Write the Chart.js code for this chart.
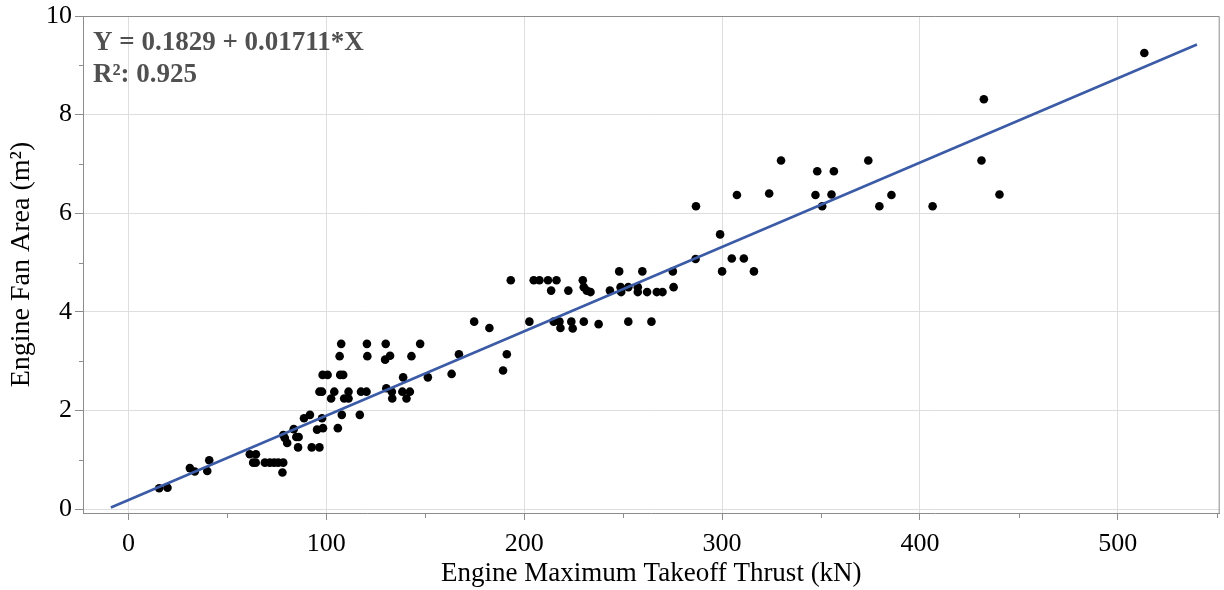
<!DOCTYPE html>
<html>
<head>
<meta charset="utf-8">
<script src="https://cdn.jsdelivr.net/npm/chart.js@4.4.1/dist/chart.umd.min.js"></script>
<style>
  html, body { margin: 0; padding: 0; background: #fff; }
  #wrap { width: 1224px; height: 590px; }
</style>
</head>
<body>
<div id="wrap"><canvas id="fanChart"></canvas></div>
<script>
// engine thrust (kN) vs fan area (m²)
const thrustKN = [
  15.5, 19.7, 31.0, 33.5, 39.8, 40.8, 61.3, 64.4, 63.0, 64.3,
  68.9, 71.4, 73.6, 75.7, 78.2, 77.8, 78.2, 79.0, 80.2, 83.5,
  84.8, 86.0, 85.7, 88.7, 91.7, 92.6, 96.5, 95.3, 98.3, 97.8,
  105.8, 107.8, 116.9, 96.5, 97.8, 98.1, 100.6, 107.0, 108.5, 107.5,
  106.7, 104.0, 102.4, 109.0, 111.2, 111.2, 117.5, 120.3, 120.5, 120.7,
  130.0, 129.7, 132.2, 130.3, 133.1, 133.3, 138.4, 142.2, 138.8, 140.5,
  143.0, 147.4, 151.3, 163.3, 167.0, 174.7, 182.4, 189.3, 191.2, 193.2,
  202.6, 204.8, 207.7, 212.0, 216.3, 213.6, 214.9, 217.8, 218.3, 223.8,
  224.5, 222.3, 229.6, 230.1, 231.6, 233.5, 230.1, 237.6, 243.3, 248.0,
  248.7, 249.0, 252.6, 252.6, 257.4, 257.4, 259.7, 262.1, 267.0, 269.9,
  264.3, 275.1, 275.5, 286.6, 286.8, 299.0, 300.0, 304.9, 311.0, 316.1,
  307.5, 323.8, 329.8, 347.2, 348.1, 350.6, 355.3, 356.5, 373.9, 379.5,
  385.6, 406.4, 431.1, 432.3, 440.2, 513.4
];
const fanArea = [
  0.42, 0.43, 0.83, 0.76, 0.77, 0.99, 1.11, 1.11, 0.94, 0.94,
  0.94, 0.94, 0.94, 0.94, 0.94, 0.74, 1.50, 1.44, 1.34, 1.62,
  1.46, 1.46, 1.25, 1.84, 1.91, 1.25, 1.25, 1.61, 1.64, 1.84,
  1.64, 1.91, 1.91, 2.38, 2.38, 2.72, 2.72, 2.72, 2.72, 3.35,
  3.10, 2.38, 2.24, 2.24, 2.24, 2.38, 2.38, 2.38, 3.35, 3.10,
  3.35, 3.03, 3.11, 2.45, 2.38, 2.24, 2.38, 2.38, 2.67, 2.24,
  3.10, 3.35, 2.67, 2.74, 3.14, 3.80, 3.67, 2.81, 3.14, 4.64,
  3.80, 4.64, 4.64, 4.64, 4.64, 4.43, 3.80, 3.80, 3.67, 3.80,
  3.66, 4.43, 4.64, 4.50, 4.43, 4.40, 3.80, 3.75, 4.43, 4.82,
  4.50, 4.40, 4.50, 3.80, 4.50, 4.40, 4.82, 4.40, 4.40, 4.40,
  3.80, 4.82, 4.50, 5.07, 6.14, 5.57, 4.82, 5.08, 5.08, 4.82,
  6.37, 6.40, 7.07, 6.37, 6.85, 6.14, 6.38, 6.85, 7.07, 6.14,
  6.37, 6.14, 7.07, 8.31, 6.38, 9.25
];

// fitted line Y = a + b*X, drawn over this x span
const fitIntercept = 0.1829;
const fitSlope = 0.01711;
const fitSpan = [-8.9, 540.0];
const fitText = ["Y = 0.1829 + 0.01711*X", "R²: 0.925"];

const xTicks = [0, 100, 200, 300, 400, 500];
const xMinorTicks = [50, 150, 250, 350, 450, 550];
const yTicks = [0, 2, 4, 6, 8, 10];
const yMinorTicks = [1, 3, 5, 7, 9];

Chart.defaults.font.family = "'Liberation Serif', 'Times New Roman', serif";
Chart.defaults.color = "#000";

// minor ticks, top/right frame and the fit text
const frameAndNotes = {
  id: "frameAndNotes",
  afterDraw(chart) {
    const { ctx, chartArea: a, scales } = chart;
    ctx.save();
    ctx.strokeStyle = "#8c8c8c";
    ctx.lineWidth = 1;
    ctx.beginPath();
    xMinorTicks.forEach((v) => {
      const px = Math.round(scales.x.getPixelForValue(v)) + 0.5;
      ctx.moveTo(px, a.bottom);
      ctx.lineTo(px, a.bottom + 5);
    });
    yMinorTicks.forEach((v) => {
      const py = Math.round(scales.y.getPixelForValue(v)) + 0.5;
      ctx.moveTo(a.left - 4, py);
      ctx.lineTo(a.left, py);
    });
    ctx.moveTo(a.left, a.top + 0.5);
    ctx.lineTo(a.right - 0.5, a.top + 0.5);
    ctx.lineTo(a.right - 0.5, a.bottom);
    ctx.stroke();

    ctx.fillStyle = "#505050";
    ctx.font = "bold 27px 'Liberation Serif', serif";
    ctx.textBaseline = "alphabetic";
    ctx.textAlign = "left";
    ctx.fillText(fitText[0], a.left + 10, a.top + 34);
    ctx.fillText(fitText[1], a.left + 10, a.top + 66);
    ctx.restore();
  },
};

new Chart(document.getElementById("fanChart"), {
  type: "scatter",
  data: {
    datasets: [
      {
        type: "line",
        data: fitSpan.map((x) => ({ x: x, y: fitIntercept + fitSlope * x })),
        borderColor: "#3b5ba6",
        borderWidth: 2.5,
        pointRadius: 0,
        fill: false,
        tension: 0,
        order: 0,
      },
      {
        data: thrustKN.map((x, i) => ({ x: x, y: fanArea[i] })),
        backgroundColor: "#000",
        borderColor: "#000",
        borderWidth: 0,
        pointRadius: 4.3,
        order: 1,
      },
    ],
  },
  options: {
    responsive: true,
    maintainAspectRatio: false,
    animation: false,
    layout: {
      padding: { top: 16, right: 1, left: 0, bottom: 0 },
    },
    plugins: {
      legend: { display: false },
      tooltip: { enabled: false },
    },
    scales: {
      x: {
        type: "linear",
        min: -23,
        max: 551.5,
        afterBuildTicks: (axis) => {
          axis.ticks = xTicks.map((v) => ({ value: v }));
        },
        afterFit: (s) => {
          s.height = 77;
          s.paddingLeft = 0;
          s.paddingRight = 0;
        },
        grid: {
          color: "#dedede",
          tickColor: "#8c8c8c",
          tickLength: 7,
        },
        border: { color: "#8c8c8c" },
        ticks: {
          color: "#000",
          font: { size: 26 },
          padding: 9,
          maxRotation: 0,
        },
        title: {
          display: true,
          text: "Engine Maximum Takeoff Thrust (kN)",
          color: "#000",
          font: { size: 27 },
          padding: { top: 0, bottom: 0 },
        },
      },
      y: {
        type: "linear",
        min: -0.081,
        max: 10,
        afterBuildTicks: (axis) => {
          axis.ticks = yTicks.map((v) => ({ value: v }));
        },
        afterFit: (s) => {
          s.width = 83;
          s.paddingTop = 0;
          s.paddingBottom = 0;
        },
        grid: {
          color: "#dedede",
          tickColor: "#8c8c8c",
          tickLength: 8,
        },
        border: { color: "#8c8c8c" },
        ticks: {
          color: "#000",
          font: { size: 26 },
          padding: 3,
        },
        title: {
          display: true,
          text: "Engine Fan Area (m²)",
          color: "#000",
          font: { size: 28 },
          padding: { top: 5, bottom: 0 },
        },
      },
    },
  },
  plugins: [frameAndNotes],
});
</script>
</body>
</html>
